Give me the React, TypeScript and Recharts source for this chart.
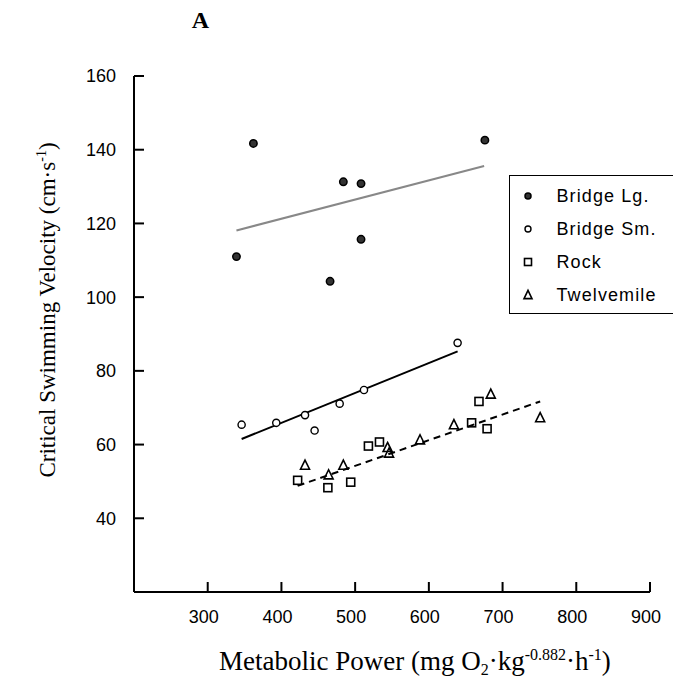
import { ScatterChart, Scatter, XAxis, YAxis, Legend } from "recharts"

// values
const bridgeLgX = [339, 362, 484, 508, 508, 466, 676]
const bridgeLgY = [111, 141.7, 131.3, 130.8, 115.7, 104.3, 142.6]
const bridgeSmX = [346, 393, 432, 445, 479, 512, 639]
const bridgeSmY = [65.4, 65.9, 68.0, 63.8, 71.1, 74.8, 87.6]
const rockX = [422, 463, 494, 518, 533, 658, 668, 679]
const rockY = [50.3, 48.3, 49.8, 59.6, 60.7, 65.9, 71.7, 64.3]
const twelveX = [432, 464, 484, 544, 546, 588, 634, 684, 751]
const twelveY = [54.4, 51.8, 54.4, 59.2, 57.7, 61.3, 65.4, 73.7, 67.3]

// fitted lines (end points)
const fitLgX = [339, 675]
const fitLgY = [118.1, 135.6]
const fitSmX = [346, 639]
const fitSmY = [61.5, 85.3]
const fitRockTwX = [422, 751]
const fitRockTwY = [48.8, 71.7]

const xTicks = [300, 400, 500, 600, 700, 800, 900]
const yTicks = [40, 60, 80, 100, 120, 140, 160]
const seriesNames = ["Bridge Lg.", "Bridge Sm.", "Rock", "Twelvemile"]

const zip = (xs: number[], ys: number[]) => xs.map((x, i) => ({ x, y: ys[i] }))

const SANS = "'Liberation Sans', Arial, sans-serif"
const SERIF = "'Liberation Serif', 'Times New Roman', serif"

function FilledDot({ cx, cy, r = 3.7 }: any) {
  return <circle cx={cx} cy={cy} r={r} fill="#333" stroke="#000" strokeWidth={1.5} />
}
function OpenDot({ cx, cy, r = 3.6 }: any) {
  return <circle cx={cx} cy={cy} r={r} fill="#fff" stroke="#000" strokeWidth={1.4} />
}
function Square({ cx, cy, s = 8 }: any) {
  return <rect x={cx - s / 2} y={cy - s / 2} width={s} height={s} fill="none" stroke="#000" strokeWidth={1.6} />
}
function Triangle({ cx, cy, s = 9 }: any) {
  const h = s * 0.9
  return (
    <path
      d={`M${cx},${cy - h / 2 - 1} L${cx + s / 2},${cy + h / 2} L${cx - s / 2},${cy + h / 2} Z`}
      fill="none"
      stroke="#000"
      strokeWidth={1.6}
    />
  )
}
const NoDot = () => <g />

const legendMarks = [
  (p: any) => <FilledDot {...p} r={3} />,
  (p: any) => <OpenDot {...p} r={3} />,
  (p: any) => <Square {...p} s={7} />,
  (p: any) => <Triangle {...p} s={8} />,
]

function LegendBox() {
  return (
    <div
      style={{
        position: "relative",
        borderTop: "1.5px solid #000",
        borderBottom: "1.5px solid #000",
        borderLeft: "1.5px solid #000",
        width: 240,
        height: 139,
        boxSizing: "border-box",
        fontFamily: SANS,
        fontSize: 18,
        background: "#fff",
      }}
    >
      {seriesNames.map((name, i) => {
        const Mark = legendMarks[i]
        return (
          <div key={name} style={{ position: "absolute", left: -1.5, top: 20 + i * 33 - 11, height: 22, display: "flex", alignItems: "center" }}>
            <svg width={40} height={22} style={{ display: "block" }}>
              <Mark cx={19} cy={11} />
            </svg>
            <span style={{ marginLeft: 8, letterSpacing: 1.1, whiteSpace: "nowrap" }}>{name}</span>
          </div>
        )
      })}
    </div>
  )
}

function YLabel({ viewBox }: any) {
  const cx = 55
  const cy = viewBox.y + viewBox.height / 2 - 24
  return (
    <text
      x={cx}
      y={cy}
      transform={`rotate(-90, ${cx}, ${cy})`}
      textAnchor="middle"
      fontFamily={SERIF}
      fontSize={23}
      style={{ fill: "#000" }}
    >
      Critical Swimming Velocity (cm·s
      <tspan dy={-9} fontSize={14}>-1</tspan>
      <tspan dy={9}>)</tspan>
    </text>
  )
}

function XLabel() {
  return (
    <text x={219} y={670} fontFamily={SERIF} fontSize={27} style={{ fill: "#000" }}>
      Metabolic Power (mg O
      <tspan dy={5} fontSize={16}>2</tspan>
      <tspan dy={-5}>·kg</tspan>
      <tspan dy={-10} fontSize={16}>-0.882</tspan>
      <tspan dy={10}>·h</tspan>
      <tspan dy={-10} fontSize={16}>-1</tspan>
      <tspan dy={10}>)</tspan>
    </text>
  )
}

export default function App() {
  return (
    <div style={{ position: "absolute", left: 0, top: 0, width: 673, height: 686, overflow: "hidden", background: "#fff" }}>
      <svg width={673} height={40} style={{ position: "absolute", left: 0, top: 0 }}>
        <text x={200.5} y={28} textAnchor="middle" fontFamily={SERIF} fontWeight="bold" fontSize={24}>A</text>
      </svg>
      <ScatterChart width={673} height={686} margin={{ top: 76, right: 23, left: 0, bottom: 0 }}>
        <XAxis
          type="number"
          dataKey="x"
          domain={[200, 900]}
          ticks={xTicks}
          interval={0}
          height={94}
          tickSize={-10}
          tickMargin={28}
          axisLine={{ stroke: "#000", strokeWidth: 2 }}
          tickLine={{ stroke: "#000", strokeWidth: 2 }}
          tick={{ fill: "#000", fontFamily: SANS, fontSize: 18, dx: -4 }}
          label={<XLabel />}
        />
        <YAxis
          type="number"
          dataKey="y"
          domain={[20, 160]}
          ticks={yTicks}
          interval={0}
          width={134}
          tickSize={-10}
          tickMargin={28}
          axisLine={{ stroke: "#000", strokeWidth: 2 }}
          tickLine={{ stroke: "#000", strokeWidth: 2 }}
          tick={{ fill: "#000", fontFamily: SANS, fontSize: 18 }}
          label={<YLabel />}
        />
        <Scatter data={zip(fitLgX, fitLgY)} line={{ stroke: "#888", strokeWidth: 2 }} shape={NoDot} isAnimationActive={false} legendType="none" />
        <Scatter data={zip(fitSmX, fitSmY)} line={{ stroke: "#000", strokeWidth: 2 }} shape={NoDot} isAnimationActive={false} legendType="none" />
        <Scatter
          data={zip(fitRockTwX, fitRockTwY)}
          line={{ stroke: "#000", strokeWidth: 2, strokeDasharray: "7 5" }}
          shape={NoDot}
          isAnimationActive={false}
          legendType="none"
        />
        <Scatter name={seriesNames[0]} data={zip(bridgeLgX, bridgeLgY)} shape={FilledDot} isAnimationActive={false} />
        <Scatter name={seriesNames[1]} data={zip(bridgeSmX, bridgeSmY)} shape={OpenDot} isAnimationActive={false} />
        <Scatter name={seriesNames[2]} data={zip(rockX, rockY)} shape={Square} isAnimationActive={false} />
        <Scatter name={seriesNames[3]} data={zip(twelveX, twelveY)} shape={Triangle} isAnimationActive={false} />
        <Legend
          layout="vertical"
          align="center"
          verticalAlign="middle"
          content={() => <LegendBox />}
          wrapperStyle={{ left: 509, top: 175, width: 240, height: 139 }}
        />
      </ScatterChart>
    </div>
  )
}
